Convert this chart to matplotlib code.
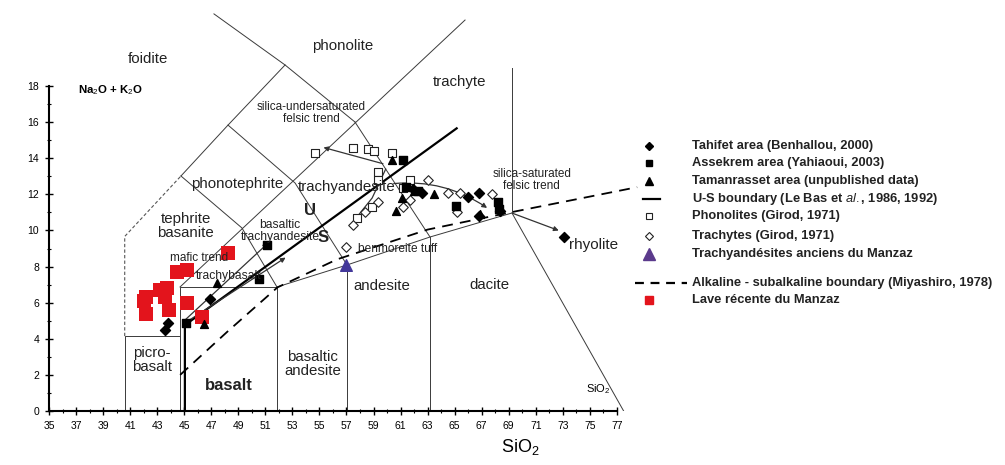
import matplotlib
matplotlib.use('Agg')
import matplotlib.pyplot as plt

plt.rcParams['font.family'] = ['Liberation Sans', 'DejaVu Sans']
plt.rcParams['mathtext.fontset'] = 'custom'
plt.rcParams['mathtext.rm'] = 'Liberation Sans'
plt.rcParams['mathtext.it'] = 'Liberation Sans:italic'
plt.rcParams['mathtext.bf'] = 'Liberation Sans:bold'

# ---- sample data: SiO2 (wt%) and Na2O+K2O (wt%) ----
tahifet_sio2 = [43.6, 43.8, 46.9, 61.9, 62.6, 66.0, 66.8, 66.8, 68.35, 73.1]
tahifet_alk = [4.5, 4.9, 6.2, 12.3, 12.1, 11.85, 12.1, 10.8, 11.1, 9.65]

assekrem_sio2 = [45.1, 50.5, 51.1, 61.2, 61.4, 62.3, 65.1, 68.2, 68.3]
assekrem_alk = [4.9, 7.3, 9.2, 13.9, 12.4, 12.2, 11.35, 11.6, 11.2]

tamanrasset_sio2 = [46.5, 47.4, 60.4, 60.7, 61.1, 62.0, 63.5, 66.9]
tamanrasset_alk = [4.8, 7.1, 13.9, 11.1, 11.8, 12.2, 12.0, 10.9]

phonolite_sio2 = [54.7, 57.5, 58.6, 59.0, 60.4, 59.3, 59.3, 61.7, 61.2, 58.9, 57.8]
phonolite_alk = [14.3, 14.55, 14.5, 14.4, 14.3, 13.25, 12.8, 12.8, 12.35, 11.3, 10.7]

trachyte_sio2 = [57.0, 57.5, 58.4, 59.3, 61.7, 63.0, 64.5, 65.4, 65.2, 67.8, 61.2]
trachyte_alk = [9.1, 10.3, 11.0, 11.6, 11.7, 12.8, 12.1, 12.1, 11.0, 12.0, 11.3]

manzaz_old_sio2 = [57.0]
manzaz_old_alk = [8.1]

manzaz_new_sio2 = [48.25, 44.5, 45.2, 42.2, 43.2, 43.7, 43.6, 45.2, 42.2, 43.9, 46.3, 42.0]
manzaz_new_alk = [8.75, 7.7, 7.8, 6.3, 6.7, 6.8, 6.3, 6.0, 5.4, 5.6, 5.2, 6.1]

# U-S boundary (Le Bas et al.) and alkaline/subalkaline boundary (Miyashiro)
us_sio2 = [45.05, 45.05, 65.15]
us_alk = [0.0, 4.76, 15.66]
miya_sio2 = [44.7, 48.2, 51.9, 56.3, 63.0, 69.1, 78.5]
miya_alk = [2.0, 4.4, 6.85, 8.4, 10.05, 11.0, 12.4]

# field boundaries of the classification grid
fields = [
    ([40.6, 40.6, 44.7, 44.7], [0, 4.15, 4.15, 0]),             # picro-basalt
    ([44.7, 44.7, 51.86, 51.86], [0, 6.87, 6.87, 0]),            # basalt
    ([44.69, 65.77], [6.87, 21.66]),                             # long diagonal
    ([51.86, 57.04, 63.18, 69.24], [6.87, 8.09, 9.64, 10.97]),   # lower diagonal
    ([57.04, 57.04], [0, 8.09]),
    ([63.18, 63.18], [0, 9.64]),
    ([69.24, 69.24], [10.97, 19.0]),
    ([69.24, 77.5], [10.97, 0.0]),
    ([47.2, 52.46, 57.63], [22.0, 19.17, 16.01]),
    ([57.63, 63.18], [16.01, 9.64]),
    ([44.76, 48.24, 52.46], [13.02, 15.84, 19.17]),
    ([48.24, 53.2, 57.04], [15.84, 12.63, 8.09]),
    ([44.76, 49.27, 51.86], [13.02, 10.14, 6.87]),
]
foidite_dash_sio2 = [40.6, 40.6, 44.76]
foidite_dash_alk = [4.15, 9.67, 13.02]

# trend arrows (start, end, curvature)
trend_arrows = [
    ((45.1, 4.9), (52.5, 8.5), 0.0),
    ((45.0, 5.0), (51.2, 9.3), 0.0),
    ((59.7, 13.7), (55.3, 14.6), 0.0),
    ((60.5, 12.6), (67.4, 11.25), -0.18),
    ((69.3, 10.95), (72.7, 10.0), 0.0),
]
trend_lines = [([57.4, 58.9, 59.9], [10.4, 11.8, 13.4])]

field_labels = [
    ('foidite', 42.3, 19.5, 10.8, 'normal'),
    ('phonolite', 56.7, 20.2, 10.8, 'normal'),
    ('trachyte', 65.4, 18.2, 10.8, 'normal'),
    ('silica-undersaturated\nfelsic trend', 54.4, 16.5, 8.5, 'normal'),
    ('phonotephrite', 48.9, 12.6, 10.8, 'normal'),
    ('trachyandesite', 57.0, 12.4, 10.8, 'normal'),
    ('tephrite\nbasanite', 45.1, 10.25, 10.8, 'normal'),
    ('basaltic\ntrachyandesite', 52.1, 9.95, 8.7, 'normal'),
    ('mafic trend', 46.1, 8.5, 8.5, 'normal'),
    ('trachybasalt', 48.3, 7.5, 8.7, 'normal'),
    ('benmoreite tuff', 60.8, 9.0, 8.6, 'normal'),
    ('silica-saturated\nfelsic trend', 70.7, 12.8, 8.5, 'normal'),
    ('rhyolite', 75.3, 9.2, 11, 'normal'),
    ('dacite', 67.6, 6.98, 10.8, 'normal'),
    ('andesite', 59.6, 6.9, 10.8, 'normal'),
    ('basaltic\nandesite', 54.5, 2.6, 10.8, 'normal'),
    ('picro-\nbasalt', 42.6, 2.8, 10.8, 'normal'),
    ('basalt', 48.3, 1.4, 12, 'bold'),
    ('U', 54.3, 11.1, 12, 'bold'),
    ('S', 55.3, 9.6, 12, 'bold'),
]

fig = plt.figure(figsize=(10.05, 4.65), dpi=100)
ax = fig.add_axes([49 / 1005, 54 / 465, 591 / 1005, 411 / 465])
ax.set_xlim(35, 78.71)
ax.set_ylim(0, 22.77)

line_col = '#3a3a3a'
for xs, ys in fields:
    ax.plot(xs, ys, color=line_col, lw=0.7, zorder=1)
ax.plot(foidite_dash_sio2, foidite_dash_alk, color='#555555', lw=0.8, ls=(0, (3, 2)), zorder=1)

ax.plot(us_sio2, us_alk, color='black', lw=1.6, zorder=2)
ax.plot(miya_sio2, miya_alk, color='black', lw=1.3, ls=(0, (6, 4)), zorder=2)

for (x0, y0), (x1, y1), rad in trend_arrows:
    ax.annotate('', xy=(x1, y1), xytext=(x0, y0),
                arrowprops=dict(arrowstyle='-|>', color='#333333', lw=0.9,
                                mutation_scale=7, shrinkA=0, shrinkB=0,
                                connectionstyle='arc3,rad=%s' % rad), zorder=3)
for xs, ys in trend_lines:
    ax.plot(xs, ys, color='#333333', lw=0.9, zorder=3)

for txt, x, y, fs, fw in field_labels:
    ax.text(x, y, txt, fontsize=fs, fontweight=fw, ha='center', va='center',
            color='#222222', linespacing=1.0, zorder=5)
ax.text(37.15, 17.8, 'Na$_2$O + K$_2$O', fontsize=8.2, fontweight='bold', ha='left', va='center')
ax.text(75.6, 1.2, 'SiO$_2$', fontsize=8, ha='center', va='center')

ax.scatter(manzaz_new_sio2, manzaz_new_alk, marker='s', s=95, color='#e3141c', zorder=4, lw=0)
ax.scatter(phonolite_sio2, phonolite_alk, marker='s', s=34, facecolor='white', edgecolor='#222222', lw=0.8, zorder=4)
ax.scatter(trachyte_sio2, trachyte_alk, marker='D', s=24, facecolor='white', edgecolor='#222222', lw=0.8, zorder=4)
ax.scatter(tahifet_sio2, tahifet_alk, marker='D', s=26, color='black', zorder=4)
ax.scatter(assekrem_sio2, assekrem_alk, marker='s', s=30, color='black', zorder=4)
ax.scatter(tamanrasset_sio2, tamanrasset_alk, marker='^', s=32, color='black', zorder=4)
ax.scatter(manzaz_old_sio2, manzaz_old_alk, marker='^', s=70, color='#43389a', zorder=4)

# axes look
for side in ['top', 'right']:
    ax.spines[side].set_visible(False)
ax.spines['left'].set_bounds(0, 18)
ax.spines['bottom'].set_bounds(35, 77)
ax.spines['left'].set_linewidth(1.5)
ax.spines['bottom'].set_linewidth(1.5)
ax.set_xticks(range(35, 78, 2))
ax.set_xticks(range(35, 78, 1), minor=True)
ax.set_yticks(range(0, 19, 2))
ax.set_yticks(range(0, 19, 1), minor=True)
ax.tick_params(which='major', direction='inout', length=6, width=1.0, labelsize=7.5, pad=4)
ax.tick_params(which='minor', direction='inout', length=3.5, width=0.8)
fig.text(520 / 1005, 1 - 447 / 465, 'SiO$_2$', fontsize=13, ha='center', va='center')

# legend (drawn by hand to follow the original spacing)
leg = fig.add_axes([0, 0, 1, 1])
leg.set_xlim(0, 1005)
leg.set_ylim(465, 0)
leg.axis('off')
leg_rows = [
    ('Tahifet area (Benhallou, 2000)', 146, dict(marker='D', ms=4.5, color='black', ls='')),
    ('Assekrem area (Yahiaoui, 2003)', 163, dict(marker='s', ms=5, color='black', ls='')),
    ('Tamanrasset area (unpublished data)', 181, dict(marker='^', ms=5.5, color='black', ls='')),
    (r'U-S boundary (Le Bas et $\mathit{al.}$, 1986, 1992)', 199, None),
    ('Phonolites (Girod, 1971)', 216, dict(marker='s', ms=5, mfc='white', mec='#222222', mew=0.8, ls='')),
    ('Trachytes (Girod, 1971)', 236, dict(marker='D', ms=4, mfc='white', mec='#222222', mew=0.8, ls='')),
    ('Trachyandésites anciens du Manzaz', 254, dict(marker='^', ms=8, color='#5b3a8c', ls='')),
    ('Alkaline - subalkaline boundary (Miyashiro, 1978)', 283, None),
    ('Lave récente du Manzaz', 300, dict(marker='s', ms=6, color='#e3141c', ls='')),
]
for label, y, style in leg_rows:
    if style is not None:
        leg.plot([649], [y], **style)
    leg.text(692, y, label, fontsize=9.3, fontweight='bold', va='center', ha='left', color='#222222')
leg.plot([643, 660], [199, 199], color='black', lw=1.6)
leg.plot([635, 687], [283, 283], color='black', lw=1.6, ls=(0, (4, 3)))

fig.savefig('out.png', dpi=100)
